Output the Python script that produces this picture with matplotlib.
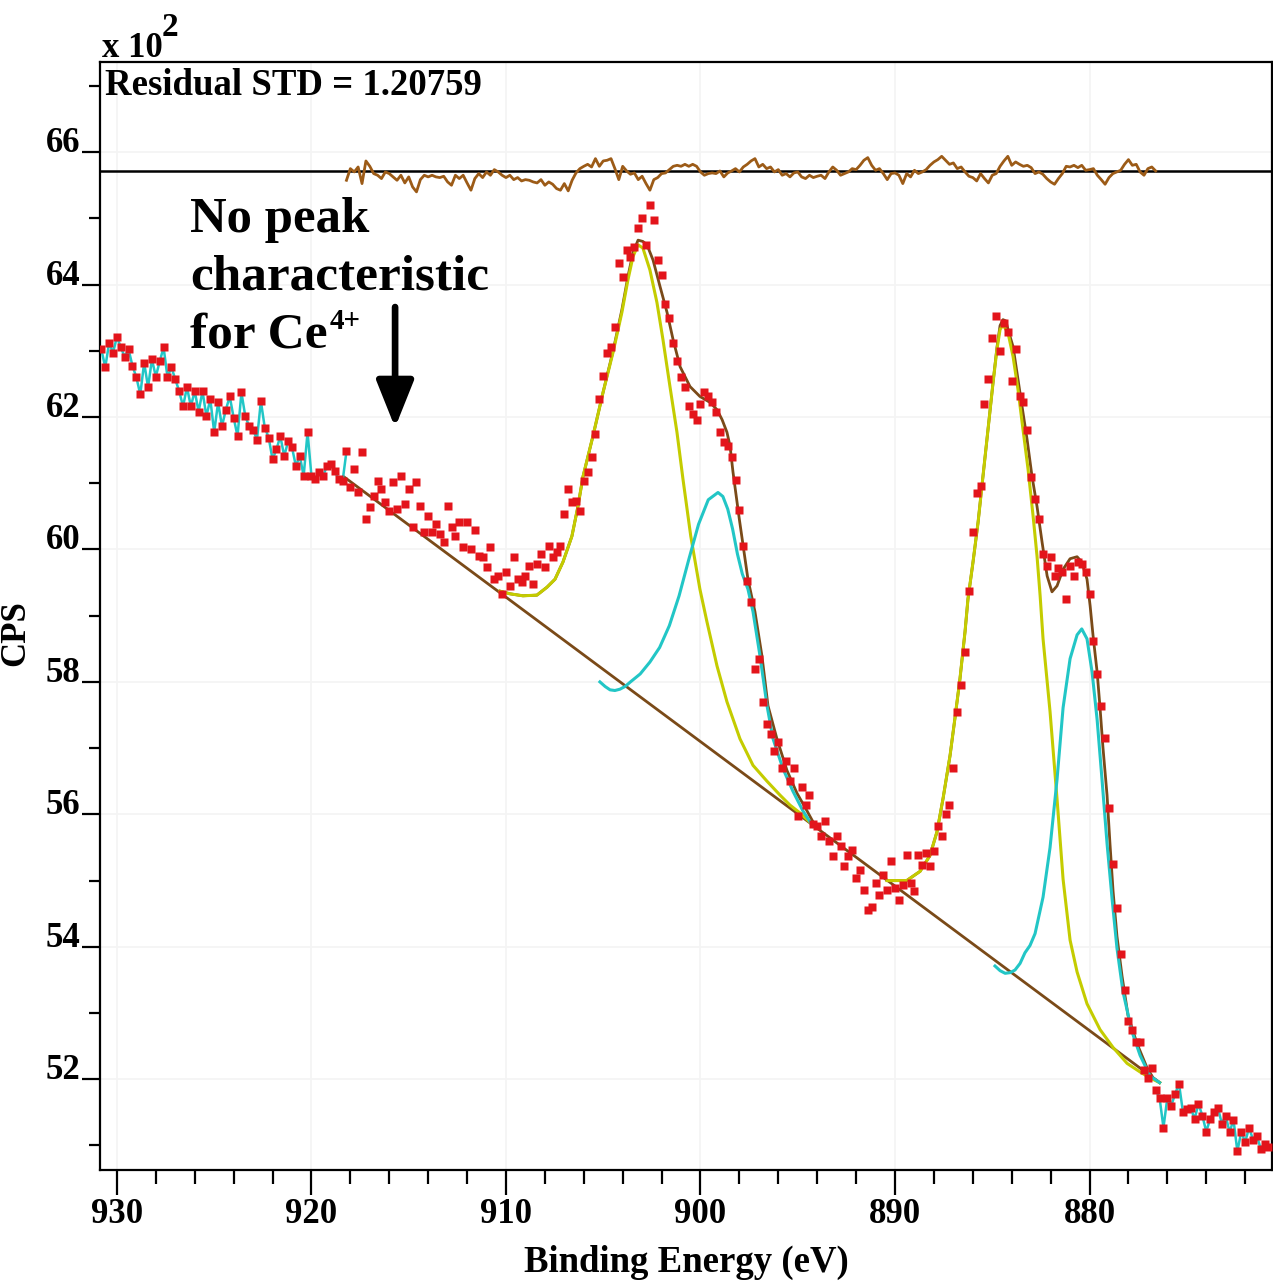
import numpy as np
import matplotlib
matplotlib.use('Agg')
import matplotlib.pyplot as plt
from matplotlib.ticker import MultipleLocator, FormatStrFormatter

plt.rcParams['font.family'] = ['Liberation Serif', 'DejaVu Serif']
plt.rcParams['font.weight'] = 'bold'

# ---------------- data (CPS in units of 10^2) ----------------
energy = np.linspace(930.8, 870.8, 301)
counts = [
    63.02, 62.75, 63.12, 62.97, 63.21, 63.05, 62.91, 63.02, 62.77, 62.60,
    62.34, 62.82, 62.45, 62.87, 62.61, 62.84, 63.05, 62.60, 62.75, 62.57,
    62.39, 62.16, 62.45, 62.16, 62.39, 62.08, 62.39, 62.01, 62.27, 61.77,
    62.22, 61.86, 62.11, 62.31, 61.99, 61.71, 62.37, 62.01, 61.86, 61.81,
    61.66, 62.24, 61.84, 61.69, 61.36, 61.51, 61.71, 61.41, 61.63, 61.54,
    61.26, 61.41, 61.11, 61.77, 61.11, 61.06, 61.17, 61.11, 61.26, 61.29,
    61.18, 61.06, 61.03, 61.48,
    60.94, 61.21, 60.86, 61.47, 60.46, 60.64, 60.80, 61.03, 60.91, 60.71,
    60.58, 61.02, 60.61, 61.11, 60.68, 60.91, 60.34, 61.02, 60.65, 60.26,
    60.50, 60.26, 60.38, 60.23, 60.11, 60.65, 60.34, 60.20, 60.41, 60.04,
    60.41, 60.00, 60.30, 59.90, 59.89, 59.73, 60.04, 59.55, 59.60, 59.33,
    59.66, 59.45, 59.89, 59.55, 59.51, 59.60, 59.75, 59.48, 59.78, 59.93,
    59.73, 60.05, 59.89, 59.96, 60.05, 60.53, 60.91, 60.71, 60.73, 60.58,
    61.03, 61.17, 61.39,
    61.74, 62.27, 62.62, 62.97, 63.06, 63.36, 64.33, 64.12, 64.52, 64.42,
    64.57, 64.86, 65.00, 64.60, 65.20, 64.98, 64.37, 64.15, 63.70, 63.50,
    63.12, 62.84, 62.60, 62.45, 62.16, 62.05, 61.96, 62.20, 62.37, 62.31,
    62.22, 62.07, 61.77, 61.62, 61.56, 61.40, 61.05, 60.60, 60.05, 59.52,
    59.20, 58.20, 58.35, 57.70, 57.37, 57.22, 56.95, 57.10, 56.70, 56.80,
    56.50, 56.70, 55.97, 56.42, 56.14, 56.29, 55.86, 55.82, 55.68, 55.90,
    55.60, 55.37, 55.68, 55.52, 55.22, 55.37, 55.46, 55.04, 55.16, 54.86,
    54.55, 54.60, 54.96, 54.78, 55.08, 54.86, 55.29, 54.89, 54.70, 54.93,
    55.38, 54.96, 54.84, 55.38, 55.23, 55.41, 55.22, 55.44, 55.82, 55.68,
    56.01, 56.14, 56.70, 57.55, 57.95, 58.45, 59.37,
    60.26, 60.85, 60.96, 62.19, 62.57, 63.20, 63.52, 62.99, 63.42, 63.29,
    62.54, 63.02, 62.31, 62.22, 61.81, 61.09, 60.76, 60.46, 59.93, 59.75,
    59.89, 59.60, 59.72, 59.66, 59.25, 59.75, 59.60, 59.81, 59.78, 59.66,
    59.33,
    58.62, 58.12, 57.64, 57.16, 56.10, 55.25, 54.58, 53.89, 53.35, 52.88,
    52.75, 52.57, 52.57, 52.14, 52.02, 52.17, 51.84, 51.72, 51.27, 51.72,
    51.60, 51.78, 51.93, 51.51, 51.55, 51.57, 51.40, 51.63, 51.45, 51.21,
    51.40, 51.51, 51.57, 51.33, 51.45, 51.20, 51.39, 50.91, 51.21, 51.05,
    51.27, 51.09, 51.15, 50.95, 51.03, 50.97,
]

# background (linear)
bg_e = [918.3, 876.4]
bg_v = [61.09, 51.95]

# Ce 3d3/2 region components
yel1_e = [910.31, 909.79, 909.13, 908.41, 907.89, 907.48, 907.07, 906.61, 906.30, 906.04,
          905.53, 905.01, 904.50, 904.04, 903.73, 903.47, 903.21, 902.96, 902.60, 902.24,
          901.93, 901.57, 901.21, 900.90, 900.50, 900.03, 899.67, 899.15, 898.64, 897.97,
          897.30, 896.58, 895.91, 895.40, 894.88, 894.37]
yel1_v = [59.37, 59.33, 59.30, 59.31, 59.43, 59.55, 59.81, 60.20, 60.65, 61.10,
          61.71, 62.37, 62.97, 63.58, 64.07, 64.42, 64.60, 64.55, 64.22, 63.73,
          63.17, 62.46, 61.77, 61.06, 60.20, 59.40, 58.91, 58.24, 57.70, 57.14,
          56.74, 56.50, 56.29, 56.14, 56.02, 55.88]
cyan1_e = [905.17, 904.90, 904.65, 904.40, 904.14, 903.88, 903.60, 903.10, 902.60, 902.10,
           901.60, 901.10, 900.60, 900.10, 899.60, 899.10, 898.85, 898.60, 898.35, 898.10,
           897.85, 897.56, 897.30, 896.94, 896.58, 896.27, 895.76, 895.25, 894.73, 894.22]
cyan1_v = [58.00, 57.93, 57.88, 57.87, 57.89, 57.93, 58.00, 58.12, 58.30, 58.52,
           58.85, 59.30, 59.85, 60.38, 60.75, 60.86, 60.80, 60.61, 60.31, 59.93,
           59.63, 59.40, 59.06, 58.39, 57.64, 57.14, 56.69, 56.35, 56.05, 55.82]
env1_e = [910.31, 909.79, 909.13, 908.41, 907.89, 907.48, 907.07, 906.61, 906.30, 906.04,
          905.53, 905.01, 904.50, 904.04, 903.73, 903.47, 903.21, 902.96, 902.75, 902.44,
          902.08, 901.72, 901.41, 901.05, 900.54, 900.03, 899.51, 899.15, 898.89, 898.64,
          898.48, 898.33, 898.00, 897.56, 897.20, 896.84, 896.53, 896.07, 895.55, 895.04,
          894.52, 894.11]
env1_v = [59.37, 59.33, 59.30, 59.31, 59.43, 59.55, 59.81, 60.20, 60.65, 61.10,
          61.71, 62.37, 62.99, 63.62, 64.12, 64.48, 64.67, 64.65, 64.60, 64.37,
          63.97, 63.58, 63.17, 62.76, 62.46, 62.31, 62.22, 62.11, 61.96, 61.77,
          61.56, 61.17, 60.45, 59.55, 59.06, 58.39, 57.64, 57.14, 56.66, 56.32,
          56.05, 55.83]

# Ce 3d5/2 region components
yel2_e = [890.41, 889.40, 888.71, 888.20, 887.84, 887.53, 887.17, 886.92, 886.66, 886.40,
          886.25, 885.99, 885.73, 885.48, 885.22, 884.96, 884.76, 884.60, 884.45, 884.19,
          883.93, 883.68, 883.42, 883.16, 882.90, 882.70, 882.54, 882.39, 882.03, 881.67,
          881.36, 881.00, 880.64, 880.13, 879.46, 878.79, 878.07, 877.40, 876.89, 876.40]
yel2_v = [55.00, 55.00, 55.14, 55.38, 55.74, 56.24, 56.89, 57.45, 58.05, 58.76,
          59.25, 59.81, 60.41, 61.10, 61.81, 62.52, 63.02, 63.32, 63.39, 63.27,
          62.91, 62.42, 61.81, 61.21, 60.50, 59.90, 59.30, 58.65, 57.55, 56.23,
          55.02, 54.10, 53.62, 53.14, 52.75, 52.48, 52.24, 52.11, 52.02, 51.95]
cyan2_e = [884.86, 884.60, 884.34, 884.08, 883.83, 883.57, 883.32, 883.06, 882.80, 882.39,
           882.03, 881.67, 881.36, 881.00, 880.64, 880.40, 880.13, 879.87, 879.61, 879.36,
           879.10, 878.84, 878.59, 878.28, 877.82, 877.40, 876.89, 876.40]
cyan2_v = [53.71, 53.64, 53.60, 53.61, 53.65, 53.75, 53.91, 54.02, 54.20, 54.75,
           55.50, 56.53, 57.61, 58.35, 58.71, 58.80, 58.65, 58.15, 57.43, 56.53,
           55.56, 54.72, 53.98, 53.32, 52.72, 52.36, 52.05, 51.95]
env2_e = [890.41, 889.40, 888.71, 888.20, 887.84, 887.53, 887.17, 886.92, 886.66, 886.40,
          886.25, 885.99, 885.73, 885.48, 885.22, 884.96, 884.76, 884.60, 884.45, 884.30,
          884.19, 883.93, 883.73, 883.47, 883.21, 882.96, 882.70, 882.44, 882.18, 881.93,
          881.67, 881.36, 881.00, 880.64, 880.40, 880.13, 879.97, 879.82, 879.61, 879.46,
          879.31, 879.10, 878.95, 878.79, 878.59, 878.33, 878.02, 877.56, 877.04, 876.73,
          876.40]
env2_v = [55.00, 55.00, 55.14, 55.38, 55.74, 56.24, 56.89, 57.45, 58.05, 58.76,
          59.25, 59.81, 60.41, 61.10, 61.81, 62.52, 63.05, 63.38, 63.47, 63.45,
          63.32, 63.06, 62.67, 62.16, 61.66, 61.11, 60.65, 60.11, 59.60, 59.36,
          59.45, 59.70, 59.86, 59.89, 59.81, 59.55, 59.15, 58.70, 58.15, 57.61,
          57.01, 56.29, 55.56, 54.84, 54.16, 53.56, 52.96, 52.54, 52.17, 52.02,
          51.95]

# residual (same units), drawn offset on the residual baseline
res_energy = np.linspace(918.2, 876.6, 209)
residual = [
    -0.136, 0.040, -0.010, 0.065, -0.186, 0.156, 0.075, -0.035, -0.060, -0.110,
    -0.010, -0.035, -0.085, -0.136, -0.060, -0.176, -0.085, -0.236, -0.311, -0.126,
    -0.060, -0.085, -0.060, -0.085, -0.095, -0.075, -0.161, -0.211, -0.060, -0.110,
    -0.060, -0.176, -0.286, -0.110, -0.035, -0.095, -0.010, -0.060, 0.025, -0.010,
    -0.060, -0.095, -0.060, -0.126, -0.095, -0.146, -0.126, -0.136, -0.161, -0.176,
    -0.126, -0.211, -0.161, -0.196, -0.261, -0.286, -0.186, -0.296, -0.136, -0.025,
    0.040, 0.075, 0.105, 0.065, 0.191, 0.075, 0.156, 0.166, 0.191, 0.040,
    -0.126, 0.075, 0.005, -0.045, -0.025, -0.126, -0.075, -0.186, -0.286, -0.126,
    -0.095, -0.035, -0.025, 0.025, 0.075, 0.090, 0.075, 0.105, 0.075, 0.105,
    0.075, -0.010, -0.060, -0.035, -0.025, -0.035, 0.005, -0.085, -0.025, 0.005,
    0.040, -0.010, 0.065, 0.105, 0.156, 0.191, 0.065, 0.105, 0.040, 0.065,
    -0.010, 0.025, -0.060, -0.035, -0.085, -0.025, -0.010,
    -0.085, -0.110, -0.060, -0.095, -0.075, -0.060, -0.110, -0.010, 0.065, 0.015,
    -0.060, -0.035, -0.010, 0.040, 0.025, 0.090, 0.166, 0.206, 0.090, 0.015,
    0.040, -0.035, -0.126, -0.035, -0.025, -0.060, -0.186, -0.035, -0.085, 0.015,
    -0.035, -0.010, 0.025, 0.090, 0.141, 0.176, 0.226, 0.166, 0.105, 0.126,
    0.040, 0.065, -0.010, -0.075, -0.095, -0.146, -0.035, -0.110, -0.176, -0.060,
    -0.035, 0.075, 0.156, 0.226, 0.090, 0.141, 0.105, 0.075, 0.090, 0.055,
    -0.035, -0.010, -0.045, -0.110, -0.161, -0.196, -0.110, -0.035, 0.075, 0.065,
    0.090, 0.055, 0.090, 0.015, 0.025, 0.040, -0.060, -0.126, -0.196, -0.095,
    -0.035, -0.010, 0.015, 0.105, 0.176, 0.090, 0.105, -0.010, -0.060, 0.040,
    0.065, 0.005,
]
res_baseline = 65.71

# ---------------- figure ----------------
W, H = 1273, 1283
fig = plt.figure(figsize=(W / 100, H / 100), dpi=100)
fig.patch.set_facecolor('white')
ax = fig.add_axes([100 / W, 1 - 1170 / H, 1172 / W, (1170 - 62) / H])

RED = '#E3141B'
CYAN = '#22C6C6'
YEL = '#C4CC00'
BROWN = '#7A4A18'
RESC = '#9C5B17'

ax.grid(True, which='major', color='#F4F4F4', lw=1.2)
ax.set_axisbelow(True)

ax.plot(bg_e, bg_v, color=BROWN, lw=2.0, zorder=2)
ax.plot(env1_e, env1_v, color=BROWN, lw=2.0, zorder=2)
ax.plot(env2_e, env2_v, color=BROWN, lw=2.0, zorder=2)
ax.plot(yel1_e, yel1_v, color=YEL, lw=2.2, zorder=3)
ax.plot(yel2_e, yel2_v, color=YEL, lw=2.2, zorder=3)
ax.plot(cyan1_e, cyan1_v, color=CYAN, lw=2.2, zorder=3)
ax.plot(cyan2_e, cyan2_v, color=CYAN, lw=2.2, zorder=3)

ax.axhline(res_baseline, color='black', lw=1.8, zorder=4)
ax.plot(res_energy, res_baseline + np.array(residual), color=RESC, lw=2.0, zorder=5)

e_arr = np.asarray(energy)
c_arr = np.asarray(counts)
left = e_arr >= 918.19
right = e_arr <= 876.61
ax.plot(e_arr[left], c_arr[left], color=CYAN, lw=1.8, zorder=4)
ax.plot(e_arr[right], c_arr[right], color=CYAN, lw=1.8, zorder=4)
ax.plot(e_arr, c_arr, 's', color=RED, ms=5.2, mec='none', zorder=6)

ax.set_xlim(930.87, 870.62)
ax.set_ylim(50.63, 67.36)

ax.xaxis.set_major_locator(MultipleLocator(10))
ax.xaxis.set_minor_locator(MultipleLocator(2))
ax.yaxis.set_major_locator(MultipleLocator(2))
ax.yaxis.set_minor_locator(MultipleLocator(1))
ax.xaxis.set_major_formatter(FormatStrFormatter('%d'))
ax.yaxis.set_major_formatter(FormatStrFormatter('%d'))
ax.tick_params(axis='x', which='major', length=18, width=1.6, labelsize=25, pad=2, direction='out')
ax.tick_params(axis='x', which='minor', length=10, width=1.6, direction='out')
ax.tick_params(axis='y', which='major', length=13, width=1.6, labelsize=25, pad=1, direction='out')
ax.tick_params(axis='y', which='minor', length=8, width=1.6, direction='out')
ax.tick_params(top=False, right=False, which='both')
for lbl in ax.get_yticklabels():
    lbl.set_verticalalignment('baseline')
for s in ax.spines.values():
    s.set_linewidth(1.6)

# texts
fig.text(102 / W, 1 - 57 / H, 'x 10', fontsize=25, fontweight='bold', va='baseline', ha='left')
fig.text(162 / W, 1 - 36 / H, '2', fontsize=24, fontweight='bold', va='baseline', ha='left')
fig.text(105 / W, 1 - 95 / H, 'Residual STD = 1.20759', fontsize=26.5, fontweight='bold',
         va='baseline', ha='left')
fig.text(16 / W, 1 - 633 / H, 'CPS', rotation=90, fontsize=25, fontweight='bold',
         ha='center', va='center')
fig.text(686 / W, 1 - 1262 / H, 'Binding Energy (eV)', fontsize=26.5, fontweight='bold',
         ha='center', va='center')
fig.text(190 / W, 1 - 232 / H, 'No peak', fontsize=36.5, fontweight='bold', va='baseline')
fig.text(190 / W, 1 - 290 / H, 'characteristic', fontsize=37, fontweight='bold', va='baseline')
fig.text(190 / W, 1 - 348 / H, 'for Ce', fontsize=37, fontweight='bold', va='baseline')
fig.text(330 / W, 1 - 329 / H, '4+', fontsize=21, fontweight='bold', va='baseline')

ax.annotate('', xy=(915.7, 61.84), xytext=(915.7, 63.66),
            arrowprops=dict(arrowstyle='-|>,head_length=0.95,head_width=0.38',
                            lw=4.8, color='black', mutation_scale=30, shrinkA=0, shrinkB=0))

fig.savefig('out.png', dpi=100, facecolor='white')
